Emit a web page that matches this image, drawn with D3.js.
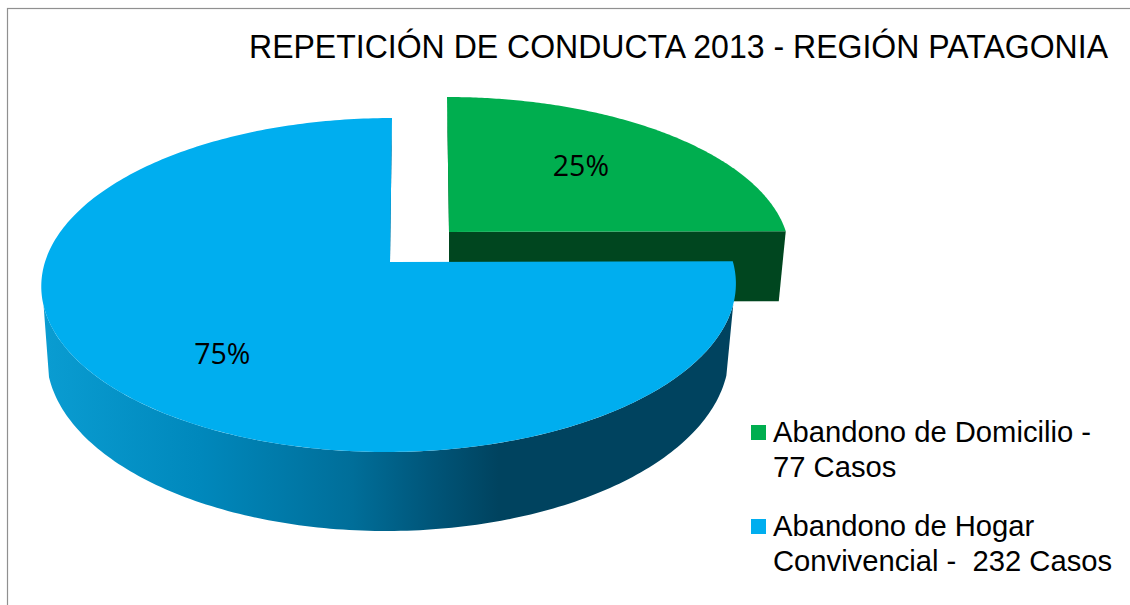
<!DOCTYPE html>
<html><head><meta charset="utf-8">
<script src="https://cdn.jsdelivr.net/npm/d3@7"></script>
<style>html,body{margin:0;padding:0;background:#fff}svg{display:block}</style>
</head><body><svg id="c" width="1130" height="605"></svg>
<script>
const title = "REPETICIÓN DE CONDUCTA 2013 - REGIÓN PATAGONIA";
const categories = ["Abandono de Domicilio", "Abandono de Hogar Convivencial"];
const casos = [77, 232];
const legendLines = [["Abandono de Domicilio -", "77 Casos"], ["Abandono de Hogar", "Convivencial -  232 Casos"]];
const colors = ["#00AE4F", "#00AEEF"];

const svg = d3.select("#c");
const W = 1130, H = 605;
svg.append("rect").attr("x", 7.5).attr("y", 8.5).attr("width", W).attr("height", H).attr("fill", "#fff").attr("stroke", "#909090").attr("stroke-width", 1.2);

// perspective projection of the pie disc
function projector(p) {
  const k = (p.near - p.far) / (p.near + p.far);
  const b = p.near * (1 - k);
  const d = p.d || 0;
  return (a, r = 1) => {
    const u = r * Math.sin(a), v = -r * Math.cos(a), w = 1 - k * v;
    return [p.ax + p.c * u / w - p.sk * v - d * r, p.ay + b * v / w];
  };
}
const pieData = d3.pie().sort(null).startAngle(0).endAngle(2 * Math.PI)(casos);
const sample = (a0, a1, n = 160) => d3.range(n + 1).map(i => a0 + (a1 - a0) * i / n);
const line = d3.line();

const greenTop = projector({ax: 449, ay: 232, c: 337, near: 178, far: 135, sk: -2});
const greenBot = projector({ax: 449, ay: 302, c: 330, near: 178, far: 135, sk: 0});
const blueTop = projector({ax: 390, ay: 262, c: 344, near: 190, far: 144, sk: 3, d: 1});
const blueBot = projector({ax: 388, ay: 331, c: 338, near: 200, far: 152, sk: 2});

const defs = svg.append("defs");
const grad = defs.append("linearGradient").attr("id", "side").attr("gradientUnits", "userSpaceOnUse")
  .attr("x1", 40).attr("x2", 735).attr("y1", 0).attr("y2", 0);
[[0, "#0A9DD2"], [0.23, "#0088BC"], [0.45, "#006E99"], [0.56, "#00567A"], [0.66, "#00435F"], [1, "#00435F"]]
  .forEach(s => grad.append("stop").attr("offset", s[0]).attr("stop-color", s[1]));

const g = pieData[0], b = pieData[1];
// green slice
const gA = sample(g.startAngle, g.endAngle);
svg.append("path").attr("fill", "#00461F").attr("d", line([greenTop(g.startAngle), greenTop(0, 0), greenBot(0, 0), greenBot(g.startAngle)]) + "Z");
svg.append("path").attr("fill", "#00461F").attr("d", line([greenTop(0, 0), greenTop(g.endAngle), greenBot(g.endAngle), greenBot(0, 0)]) + "Z");
svg.append("path").attr("fill", colors[0]).attr("d", line([greenTop(0, 0), ...gA.map(a => greenTop(a))]) + "Z");

// blue slice
const wall = sample(Math.PI * 0.58, Math.PI * 1.417);
svg.append("path").attr("fill", "url(#side)").attr("d", line([...wall.map(a => blueTop(a)), ...wall.slice().reverse().map(a => blueBot(a))]) + "Z");
svg.append("path").attr("fill", "#00435F").attr("d", line([blueTop(b.endAngle), blueTop(0, 0), blueBot(b.endAngle)]) + "Z");
const bA = sample(b.startAngle, b.endAngle, 300);
svg.append("path").attr("fill", colors[1]).attr("d", line([blueTop(0, 0), ...bA.map(a => blueTop(a))]) + "Z");

// percentage labels
const total = d3.sum(casos), pct = d3.format(".0%");
const labelFont = "'Open Sans','Noto Sans',sans-serif";
[[g, greenTop, 0.6, -2, -5], [b, blueTop, 0.64, 0, 12]].forEach(([d, proj, r, dx, dy]) => {
  const mid = (d.startAngle + d.endAngle) / 2, pos = proj(mid, r);
  svg.append("text").attr("x", pos[0] + dx).attr("y", pos[1] + dy).attr("dy", "0.36em").attr("text-anchor", "middle")
    .attr("font-family", labelFont).attr("font-size", 28.5).attr("fill", "#000").text(pct(d.value / total));
});

// title
svg.append("text").attr("x", 249).attr("y", 58).attr("font-family", "'Liberation Sans',Arial,sans-serif")
  .attr("font-size", 32.5).attr("textLength", 859).attr("lengthAdjust", "spacingAndGlyphs").attr("fill", "#000").text(title);

// legend
const legendY = d3.scalePoint().domain(categories).range([442, 536]);
categories.forEach((c, i) => {
  const y = legendY(c);
  svg.append("rect").attr("x", 751).attr("y", y - 17).attr("width", 15).attr("height", 15).attr("fill", colors[i]);
  legendLines[i].forEach((t, j) => svg.append("text").attr("x", 773).attr("y", y + j * 34.5)
    .attr("font-family", "'Liberation Sans',Arial,sans-serif").attr("font-size", 29.2).attr("fill", "#000")
    .style("white-space", "pre").text(t));
});
</script></body></html>
